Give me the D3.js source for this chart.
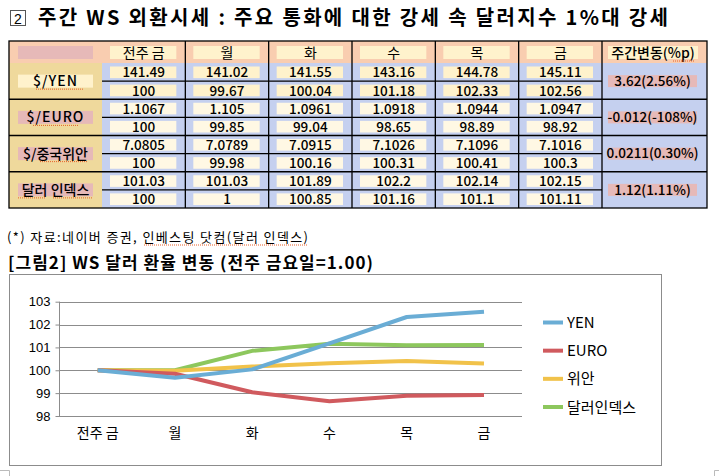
<!DOCTYPE html>
<html><head><meta charset="utf-8">
<script src="https://cdn.jsdelivr.net/npm/d3@7"></script>
<style>
html,body{margin:0;padding:0;background:#fff;}
svg{display:block;}
</style></head>
<body>
<script>
// ---- data ----
const days = ["전주 금","월","화","수","목","금"];
const groupLabels = ["$/YEN","$/EURO","$/중국위안","달러 인덱스"];
const yenRaw  = ["141.49","141.02","141.55","143.16","144.78","145.11"];
const yenIdx  = [100, 99.67, 100.04, 101.18, 102.33, 102.56];
const euroRaw = ["1.1067","1.105","1.0961","1.0918","1.0944","1.0947"];
const euroIdx = [100, 99.85, 99.04, 98.65, 98.89, 98.92];
const cnyRaw  = ["7.0805","7.0789","7.0915","7.1026","7.1096","7.1016"];
const cnyIdx  = [100, 99.98, 100.16, 100.31, 100.41, 100.3];
const dxyRaw  = ["101.03","101.03","101.89","102.2","102.14","102.15"];
const dxyIdxTable = [100, 1, 100.85, 101.16, 101.1, 101.11];
const dxyIdxChart = [100, 100, 100.85, 101.16, 101.1, 101.11];
const weeklyChange = ["3.62(2.56%)","-0.012(-108%)","0.0211(0.30%)","1.12(1.11%)"];
const changeHeader = "주간변동(%p)";
const seriesNames = ["YEN","EURO","위안","달러인덱스"];
const yTicks = [98, 99, 100, 101, 102, 103];
const titleText = "주간 WS 외환시세 : 주요 통화에 대한 강세 속 달러지수 1%대 강세";
const noteText = "(*) 자료:네이버 증권, 인베스팅 닷컴(달러 인덱스)";
const figTitle = "[그림2] WS 달러 환율 변동 (전주 금요일=1.00)";

// ---- setup ----
const W = 719, H = 476;
const KR = "'Noto Sans CJK KR','Noto Sans',sans-serif";
const svg = d3.select("body").append("svg").attr("width", W).attr("height", H);
svg.append("rect").attr("width", W).attr("height", H).attr("fill", "#fff");

// Title
svg.append("rect").attr("x", 10.5).attr("y", 10.5).attr("width", 15).attr("height", 15)
  .attr("fill", "#fff").attr("stroke", "#555").attr("stroke-width", 1);
svg.append("text").attr("x", 18).attr("y", 23.5).attr("text-anchor", "middle")
  .attr("font-family", "'Liberation Sans',sans-serif").attr("font-size", 14).text("2");
svg.append("text").attr("x", 38).attr("y", 25).attr("font-family", KR)
  .attr("font-weight", "bold").attr("font-size", 20)
  .attr("textLength", 630).attr("lengthAdjust", "spacing").text(titleText);

// ---- table ----
const C = {peach:"#f9cdb0", tan:"#efd99c", blue:"#c5d0ef", hbox:"#fff2cc", box:"#fff8e4", pink:"#e6b9b8"};
const tX0 = 9, tX1 = 707, tY0 = 41, tHead = 63, tY1 = 208;
const col = d3.scaleBand().domain(days).range([102, 602]);
const grp = d3.scaleBand().domain(groupLabels).range([tHead, tY1]);
const tbl = svg.append("g");
tbl.append("rect").attr("x", tX0).attr("y", tY0).attr("width", tX1 - tX0).attr("height", tHead - tY0).attr("fill", C.peach);
tbl.append("rect").attr("x", tX0).attr("y", tHead).attr("width", 102 - tX0).attr("height", tY1 - tHead).attr("fill", C.tan);
tbl.append("rect").attr("x", 102).attr("y", tHead).attr("width", tX1 - 102).attr("height", tY1 - tHead).attr("fill", C.blue);

function box(x, y, w, h, fill) {
  tbl.append("rect").attr("x", x).attr("y", y).attr("width", w).attr("height", h).attr("fill", fill);
}
function txt(x, cy, s, size, fam, opts) {
  const t = tbl.append("text").attr("x", x).attr("y", cy + size * 0.36)
    .attr("text-anchor", "middle").attr("font-family", fam).attr("font-size", size).text(s);
  if (opts && opts.ls) t.attr("letter-spacing", opts.ls);
  if (opts && opts.fw) t.attr("font-weight", opts.fw);
  return t;
}
function squiggle(x1, x2, y) {
  tbl.append("line").attr("x1", x1).attr("x2", x2).attr("y1", y).attr("y2", y)
    .attr("stroke", "#e8602a").attr("stroke-width", 1).attr("stroke-dasharray", "1,1");
}

// header
const hcy = 52.5;
box(18, 46, 75, 13, C.pink);
days.forEach(d => {
  box(col(d) + 8, 46, col.bandwidth() - 17, 13, C.hbox);
  txt(col(d) + col.bandwidth() / 2, hcy, d, 14, KR);
});
box(608, 46, 90, 13, C.hbox);
txt(653, hcy, changeHeader, 14, KR, {fw: 500});
squiggle(673, 695, 61);

const rawArr = [yenRaw, euroRaw, cnyRaw, dxyRaw];
const idxArr = [yenIdx, euroIdx, cnyIdx, dxyIdxTable];
groupLabels.forEach((g, gi) => {
  const y0 = grp(g), h = grp.bandwidth(), ym = y0 + h / 2;
  // label
  box(18, ym - 6.5, 75, 13, gi === 0 ? C.hbox : C.pink);
  const latin = gi < 2;
  txt(55.5, ym, g, 14, KR, latin ? {ls: 1, fw: 500} : {fw: 500});
  if (gi === 0) squiggle(36, 83, ym + 8);
  if (gi === 1) squiggle(33, 79, ym + 8);
  if (gi === 2) squiggle(40, 88, ym + 8);
  if (gi === 3) { squiggle(18, 45, ym + 8); squiggle(53, 92, ym + 8); }
  const bfill = gi === 0 ? C.hbox : C.box;
  days.forEach((d, di) => {
    const cx = col(d) + col.bandwidth() / 2;
    [0, 1].forEach(r => {
      const ry = y0 + r * h / 2;
      box(col(d) + 8, ry + 3.5, col.bandwidth() - 17, h / 2 - 6.5, bfill);
      const v = r === 0 ? rawArr[gi][di] : String(idxArr[gi][di]);
      txt(cx, ry + h / 4 + 0.5, v, 13.5, KR, {fw: 500});
    });
  });
  box(608, ym - 6, 89, 12, C.pink);
  txt(652.5, ym, weeklyChange[gi], 13.5, KR, {fw: 500});
});

// table lines
const ls = "#000", lw = 1.3;
function tline(x1, y1, x2, y2) {
  tbl.append("line").attr("x1", x1).attr("y1", y1).attr("x2", x2).attr("y2", y2)
    .attr("stroke", ls).attr("stroke-width", lw);
}
days.forEach((d, i) => { if (i > 0) tline(col(d), tY0, col(d), tY1); });
tline(602, tY0, 602, tY1);
groupLabels.forEach((g, gi) => {
  if (gi > 0) tline(tX0, grp(g), tX1, grp(g));
  tline(102, grp(g) + grp.bandwidth() / 2, 602, grp(g) + grp.bandwidth() / 2);
});
tbl.append("rect").attr("x", tX0).attr("y", tY0).attr("width", tX1 - tX0).attr("height", tY1 - tY0)
  .attr("fill", "none").attr("stroke", ls).attr("stroke-width", lw);

// footnote & figure title
svg.append("text").attr("x", 7).attr("y", 242).attr("font-family", KR).attr("font-size", 13)
  .attr("textLength", 301).attr("lengthAdjust", "spacing").text(noteText);
svg.append("line").attr("x1", 144).attr("x2", 307).attr("y1", 245).attr("y2", 245)
  .attr("stroke", "#e8602a").attr("stroke-dasharray", "1,1");
svg.append("text").attr("x", 8).attr("y", 269).attr("font-family", KR).attr("font-weight", "bold")
  .attr("font-size", 17).attr("textLength", 365).attr("lengthAdjust", "spacing").text(figTitle);

// ---- chart ----
svg.append("rect").attr("x", 9.5).attr("y", 274.5).attr("width", 652).attr("height", 191)
  .attr("fill", "#fff").attr("stroke", "#8c8c8c").attr("stroke-width", 1);
const x = d3.scalePoint().domain(days).range([97.7, 484]);
const y = d3.scaleLinear().domain([98, 103]).range([416, 301.7]);
const ch = svg.append("g");
ch.selectAll("line.grid").data(yTicks).join("line").attr("class", "grid")
  .attr("x1", 59).attr("x2", 522).attr("y1", d => Math.round(y(d)) + 0.5).attr("y2", d => Math.round(y(d)) + 0.5)
  .attr("stroke", "#8c8c8c").attr("stroke-width", 1);
const ax = ch.append("g").attr("transform", "translate(59.5,0)")
  .call(d3.axisLeft(y).tickValues(yTicks).tickSize(4).tickPadding(5).tickFormat(d3.format("d")));
ax.select(".domain").attr("stroke", "#8c8c8c").attr("d", `M0,${y(103)}V${y(98)}`);
ax.selectAll(".tick line").attr("stroke", "#8c8c8c");
ax.selectAll(".tick text").attr("font-family", "'Liberation Sans',sans-serif").attr("font-size", 13).attr("fill", "#000");
ch.selectAll("text.xl").data(days).join("text").attr("class", "xl")
  .attr("x", d => x(d)).attr("y", 438).attr("text-anchor", "middle")
  .attr("font-family", KR).attr("font-size", 14).text(d => d);

const colors = ["#6aadd5", "#d05a5e", "#f1c24a", "#8dc75d"];
const series = [yenIdx, euroIdx, cnyIdx, dxyIdxChart];
const line = d3.line().x((d, i) => x(days[i])).y(d => y(d));
[3, 2, 1, 0].forEach(i => {
  ch.append("path").attr("d", line(series[i])).attr("fill", "none")
    .attr("stroke", colors[i]).attr("stroke-width", 4).attr("stroke-linejoin", "round").attr("stroke-linecap", "butt");
});
const legY = d3.scalePoint().domain(seriesNames).range([322.5, 407]);
seriesNames.forEach((s, i) => {
  ch.append("line").attr("x1", 543).attr("x2", 563).attr("y1", legY(s)).attr("y2", legY(s))
    .attr("stroke", colors[i]).attr("stroke-width", 4);
  ch.append("text").attr("x", 567).attr("y", legY(s) + 5.5).attr("font-family", KR)
    .attr("font-size", 15).text(s);
});
// page corner marks
svg.append("path").attr("d", "M0,470.5H9.5V476").attr("fill", "none").attr("stroke", "#bbb");
svg.append("path").attr("d", "M719,470.5H714.5V476").attr("fill", "none").attr("stroke", "#bbb");
</script>
</body></html>
